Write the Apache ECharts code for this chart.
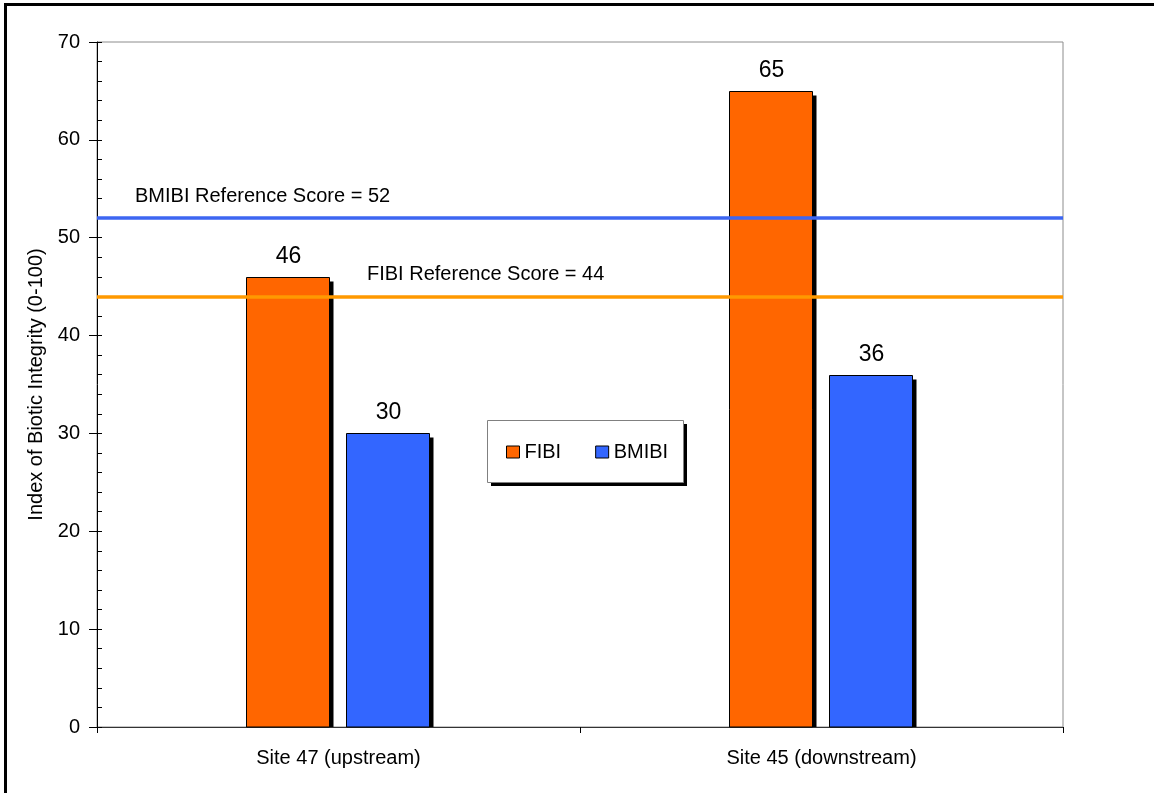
<!DOCTYPE html>
<html>
<head>
<meta charset="utf-8">
<script src="https://cdn.jsdelivr.net/npm/echarts@6/dist/echarts.min.js"></script>
<style>
html,body{margin:0;padding:0;background:#fff;}
#chart{width:1154px;height:793px;}
</style>
</head>
<body>
<div id="chart"></div>
<script>
const categories = ['Site 47 (upstream)', 'Site 45 (downstream)'];
const fibiValues = [46, 65];
const bmibiValues = [30, 36];
const referenceNames = ['BMIBI Reference Score = 52', 'FIBI Reference Score = 44'];
const referenceValues = [52, 44];
const yTicks = { min: 0, max: 70, interval: 10 };

const FONT = '"Liberation Sans", Arial, sans-serif';
const refColors = ['#3D66F2', '#FF9900'];
const chart = echarts.init(document.getElementById('chart'));

// bar geometry as fractions of the category band
const BAR_FRAC = 83 / 483;
const GAP_FRAC = 17 / 483;

function makeRenderer(side, color) {
  return function (params, api) {
    const cat = api.value(0), val = api.value(1);
    const base = api.coord([cat, 0]);
    const top = api.coord([cat, val]);
    const band = api.size([1, 0])[0];
    const w = band * BAR_FRAC, g = band * GAP_FRAC;
    const cx = base[0] + side * (w + g) / 2;
    const x = Math.round(cx - w / 2) - 0.5;
    const y = Math.round(top[1]) + 0.5;
    const h = base[1] - y;
    return {
      type: 'group',
      children: [
        { type: 'rect', shape: { x: x + 4, y: y + 4, width: w, height: h - 4 }, style: { fill: '#000' } },
        { type: 'rect', shape: { x: x, y: y, width: w, height: h }, style: { fill: color, stroke: '#000', lineWidth: 1 } },
        { type: 'text', x: cx, y: y - 9, style: { text: String(val), align: 'center', verticalAlign: 'bottom', font: '23px ' + FONT, fill: '#000' } }
      ]
    };
  };
}

const option = {
  animation: false,
  backgroundColor: '#fff',
  textStyle: { fontFamily: FONT },
  grid: { left: 97, right: 91, top: 42, bottom: 66, show: true, borderColor: '#8c8c8c', borderWidth: 1, backgroundColor: 'transparent' },
  legend: {
    left: 506, top: 442,
    orient: 'horizontal',
    data: ['FIBI', 'BMIBI'],
    itemWidth: 13, itemHeight: 12, itemGap: 34,
    padding: 0,
    z: 10,
    textStyle: { fontSize: 20, color: '#000', fontFamily: FONT },
    itemStyle: { borderColor: '#000', borderWidth: 1 },
    icon: 'rect'
  },
  xAxis: {
    type: 'category',
    data: categories,
    boundaryGap: true,
    axisLine: { lineStyle: { color: '#333', width: 1 } },
    axisTick: { show: true, alignWithLabel: false, length: 6, lineStyle: { color: '#000' } },
    axisLabel: { fontSize: 20, color: '#000', margin: 21, fontFamily: FONT },
    splitLine: { show: false }
  },
  yAxis: [
    {
      type: 'value',
      min: yTicks.min, max: yTicks.max, interval: yTicks.interval,
      name: 'Index of Biotic Integrity (0-100)',
      nameLocation: 'middle',
      nameGap: 47,
      nameTextStyle: { fontSize: 20, color: '#000', fontFamily: FONT },
      axisLine: { show: true, lineStyle: { color: '#000', width: 1 } },
      axisTick: { show: true, length: 8, lineStyle: { color: '#000' } },
      axisLabel: { fontSize: 20, color: '#000', margin: 17, fontFamily: FONT },
      splitLine: { show: false }
    },
    {
      type: 'value',
      min: yTicks.min, max: yTicks.max, interval: yTicks.interval / 5,
      position: 'left',
      axisLine: { show: false },
      axisTick: { show: true, inside: true, length: 5, lineStyle: { color: '#000' } },
      axisLabel: { show: false },
      splitLine: { show: false }
    }
  ],
  series: [
    {
      name: 'FIBI', type: 'custom',
      itemStyle: { color: '#FF6600' },
      data: fibiValues.map((v, i) => [i, v]),
      encode: { x: 0, y: 1 },
      renderItem: makeRenderer(-1, '#FF6600'),
      z: 2
    },
    {
      name: 'BMIBI', type: 'custom',
      itemStyle: { color: '#3366FF' },
      data: bmibiValues.map((v, i) => [i, v]),
      encode: { x: 0, y: 1 },
      renderItem: makeRenderer(1, '#3366FF'),
      z: 2
    },
    {
      name: 'reference', type: 'line', data: [],
      z: 5,
      markLine: {
        silent: true,
        symbol: ['none', 'none'],
        label: { show: false },
        data: referenceValues.map((v, i) => ({ yAxis: v, lineStyle: { color: refColors[i], width: 3.5, type: 'solid' } }))
      }
    }
  ]
};
chart.setOption(option);

const labelX = [135, 367];
const labelGraphics = referenceValues.map((v, i) => {
  const y = chart.convertToPixel({ yAxisIndex: 0 }, v);
  return {
    type: 'text', x: labelX[i], y: y - 22, z: 10,
    style: { text: referenceNames[i], font: '20px ' + FONT, fill: '#000', verticalAlign: 'middle' }
  };
});
chart.setOption({
  graphic: labelGraphics.concat([
    { type: 'rect', z: 5, shape: { x: 491, y: 424, width: 196, height: 62 }, style: { fill: '#000' }, silent: true },
    { type: 'rect', z: 6, shape: { x: 487.5, y: 420.5, width: 196, height: 62 }, style: { fill: '#fff', stroke: '#808080', lineWidth: 1 }, silent: true },
    { type: 'rect', z: 20, shape: { x: 5.5, y: 4.5, width: 1160, height: 800 }, style: { fill: 'none', stroke: '#000', lineWidth: 3 }, silent: true }
  ])
});
</script>
</body>
</html>
